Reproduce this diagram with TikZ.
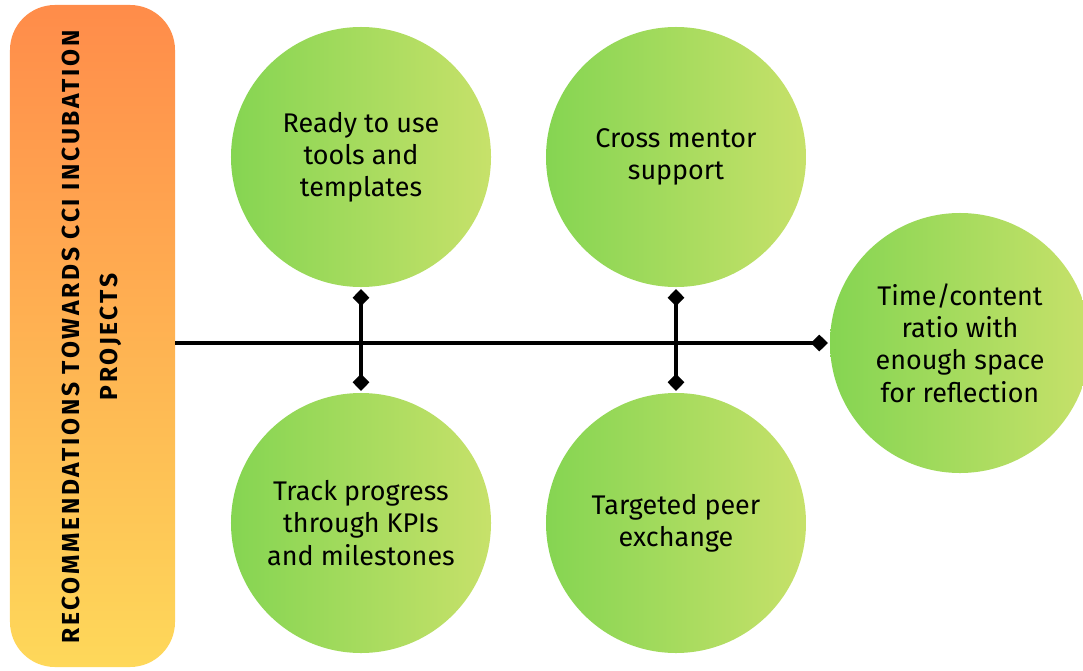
\documentclass[tikz,border=0pt]{standalone}
\usepackage{fontspec}
\setmainfont{Fira Sans}
\usetikzlibrary{arrows.meta}
\definecolor{barTop}{RGB}{255,140,74}
\definecolor{barBottom}{RGB}{254,216,90}
\definecolor{greenL}{RGB}{133,213,82}
\definecolor{greenR}{RGB}{199,225,106}
\tikzset{dia/.tip={Diamond[length=0.52cm,width=0.5cm]}}
\begin{document}
\begin{tikzpicture}
  [x=0.03cm,y=-0.03cm,
   idea/.style={circle,minimum size=7.8cm,inner sep=0pt,outer sep=0.06cm,
     left color=greenL,right color=greenR,align=center,
     font=\fontsize{23}{27.5}\selectfont},
   link/.style={line width=3pt,black}]
\useasboundingbox (0,0) rectangle (1083,671);
\node (bar)[rectangle,rounded corners=1.35cm,minimum width=4.95cm,minimum height=19.86cm,
  top color=barTop,bottom color=barBottom] at (92.5,336) {};
\node (title)[rotate=90,align=center,
  font=\bfseries\fontsize{21}{32}\selectfont\addfontfeature{LetterSpace=11}]
  at (92,337) {RECOMMENDATIONS TOWARDS CCI INCUBATION\\PROJECTS};

\node (n1)[idea] at (361,157) {Ready to use\\tools and\\templates};
  \node (n2)[idea] at (676,157) {Cross mentor\\support};
  \node (n3)[idea] at (361,523) {Track progress\\through KPIs\\and milestones};
  \node (n4)[idea] at (676,523) {Targeted peer\\exchange};
  \node (n5)[idea] at (960,343) {Time/content\\ratio with\\enough space\\for reflection};

 \path[link]
   (bar.east |- n5.west) edge [-dia] (n5.west);

  \path[link]
   (n1) edge [dia-dia] (n3);

  \path[link]
   (n2) edge [dia-dia] (n4);

\end{tikzpicture}
\end{document}
